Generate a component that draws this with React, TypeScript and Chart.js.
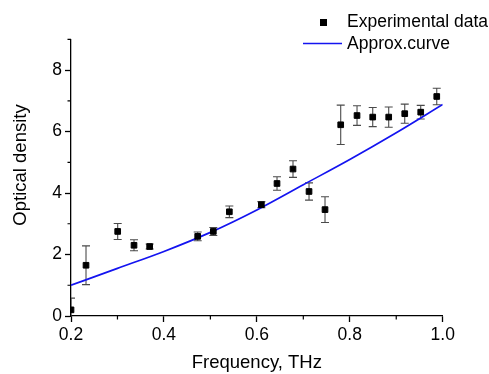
import { useEffect, useRef } from 'react';
import { Chart, registerables } from 'chart.js';

Chart.register(...registerables);

// Measured optical density with its uncertainty
const frequency = [0.2, 0.2323, 0.3005, 0.3356, 0.3693, 0.4727, 0.5063, 0.5408, 0.6097, 0.6434, 0.6778, 0.7123, 0.7467, 0.7805, 0.8156, 0.8494, 0.8838, 0.9183, 0.9527, 0.9872];
const density = [0.2, 1.65, 2.75, 2.3, 2.26, 2.59, 2.75, 3.39, 3.62, 4.31, 4.78, 4.05, 3.46, 6.22, 6.52, 6.47, 6.47, 6.58, 6.63, 7.14];
const densityError = [0.38, 0.63, 0.26, 0.18, 0.08, 0.14, 0.13, 0.19, 0.1, 0.22, 0.27, 0.28, 0.42, 0.64, 0.32, 0.31, 0.33, 0.31, 0.22, 0.27];

// Approximating curve
const curveFrequency = [0.2, 0.3, 0.4, 0.5, 0.6, 0.7, 0.8, 0.9, 1.0];
const curveDensity = [1.0, 1.55, 2.1, 2.72, 3.45, 4.27, 5.09, 5.96, 6.88];

const xMinorTicks = [0.3, 0.5, 0.7, 0.9];
const yMinorTicks = [1, 3, 5, 7, 9];

const FONT = '"Liberation Sans", Arial, sans-serif';

const isMinorX = (v: number) => Math.round(v * 10) % 2 === 1;
const isMinorY = (v: number) => Math.round(v) % 2 === 1;

const decorations = {
  id: 'decorations',
  beforeDatasetsDraw(chart: any) {
    const { ctx, chartArea } = chart;
    const x = chart.scales.x;
    const y = chart.scales.y;
    ctx.save();
    ctx.beginPath();
    ctx.rect(chartArea.left, chartArea.top, chartArea.right - chartArea.left, chartArea.bottom - chartArea.top);
    ctx.clip();
    ctx.strokeStyle = '#4a4a4a';
    ctx.lineWidth = 1.1;
    frequency.forEach((f, i) => {
      const err = densityError[i];
      if (!err) return;
      const px = x.getPixelForValue(f);
      const top = y.getPixelForValue(density[i] + err);
      const bot = y.getPixelForValue(density[i] - err);
      ctx.beginPath();
      ctx.moveTo(px, top);
      ctx.lineTo(px, bot);
      ctx.moveTo(px - 4, top);
      ctx.lineTo(px + 4, top);
      ctx.moveTo(px - 4, bot);
      ctx.lineTo(px + 4, bot);
      ctx.stroke();
    });
    ctx.restore();
  },
  afterDraw(chart: any) {
    const { ctx, chartArea } = chart;
    const x = chart.scales.x;
    const y = chart.scales.y;
    ctx.save();

    // minor ticks
    ctx.strokeStyle = '#000';
    ctx.lineWidth = 1.2;
    ctx.beginPath();
    xMinorTicks.forEach((v) => {
      const px = x.getPixelForValue(v);
      ctx.moveTo(px, chartArea.bottom);
      ctx.lineTo(px, chartArea.bottom + 3.5);
    });
    yMinorTicks.forEach((v) => {
      const py = y.getPixelForValue(v);
      ctx.moveTo(chartArea.left, py);
      ctx.lineTo(chartArea.left - 3.5, py);
    });
    ctx.stroke();

    // y axis title
    ctx.fillStyle = '#000';
    ctx.font = `18.5px ${FONT}`;
    ctx.textAlign = 'center';
    ctx.textBaseline = 'middle';
    ctx.save();
    ctx.translate(21, 165);
    ctx.rotate(-Math.PI / 2);
    ctx.fillText('Optical density', 0, 0);
    ctx.restore();

    // legend
    const [points, curve] = chart.data.datasets;
    ctx.font = `17.5px ${FONT}`;
    ctx.textAlign = 'left';
    ctx.fillStyle = points.pointBackgroundColor;
    ctx.fillRect(320, 19, 7, 7);
    ctx.fillStyle = '#000';
    ctx.fillText(points.label, 347, 22.5);
    ctx.strokeStyle = curve.borderColor;
    ctx.lineWidth = curve.borderWidth;
    ctx.beginPath();
    ctx.moveTo(303, 43.5);
    ctx.lineTo(342, 43.5);
    ctx.stroke();
    ctx.fillText(curve.label, 347, 44);

    ctx.restore();
  },
};

export default function App() {
  const canvasRef = useRef<HTMLCanvasElement | null>(null);

  useEffect(() => {
    const canvas = canvasRef.current;
    if (!canvas) return;
    const chart = new Chart(canvas, {
      type: 'scatter',
      data: {
        datasets: [
          {
            label: 'Experimental data',
            data: frequency.map((f, i) => ({ x: f, y: density[i] })),
            pointStyle: 'rect',
            pointRadius: 4,
            pointBorderWidth: 1,
            pointBackgroundColor: '#000',
            pointBorderColor: '#000',
            showLine: false,
            clip: 0,
          },
          {
            label: 'Approx.curve',
            type: 'line',
            data: curveFrequency.map((f, i) => ({ x: f, y: curveDensity[i] })),
            borderColor: '#1414f0',
            borderWidth: 1.7,
            pointRadius: 0,
            fill: false,
            cubicInterpolationMode: 'monotone',
            clip: 0,
          },
        ],
      },
      options: {
        animation: false,
        responsive: false,
        layout: { padding: { top: 39.3, right: 46.3, left: 0, bottom: 0 } },
        plugins: {
          legend: { display: false },
          tooltip: { enabled: false },
        },
        scales: {
          x: {
            type: 'linear',
            min: 0.2,
            max: 1.0,
            afterFit: (s: any) => {
              s.height = 58;
            },
            border: { display: true, color: '#000', width: 1.3 },
            grid: {
              drawOnChartArea: false,
              drawTicks: true,
              tickLength: 6,
              tickWidth: 1.3,
              tickColor: (c: any) => (c.tick && isMinorX(c.tick.value) ? 'rgba(0,0,0,0)' : '#000'),
            },
            ticks: {
              stepSize: 0.1,
              autoSkip: false,
              maxRotation: 0,
              padding: 3,
              color: '#000',
              font: { family: FONT, size: 17.5 },
              callback: (v: any) => (isMinorX(Number(v)) ? '' : Number(v).toFixed(1)),
            },
            title: {
              display: true,
              text: 'Frequency, THz',
              color: '#000',
              font: { family: FONT, size: 18.5 },
              padding: { top: 2, bottom: 0 },
            },
          },
          y: {
            type: 'linear',
            min: 0,
            max: 9,
            afterFit: (s: any) => {
              s.width = 71;
            },
            border: { display: true, color: '#000', width: 1.3 },
            grid: {
              drawOnChartArea: false,
              drawTicks: true,
              tickLength: 6,
              tickWidth: 1.3,
              tickColor: (c: any) => (c.tick && isMinorY(c.tick.value) ? 'rgba(0,0,0,0)' : '#000'),
            },
            ticks: {
              stepSize: 1,
              autoSkip: false,
              padding: 3,
              color: '#000',
              font: { family: FONT, size: 17.5 },
              callback: (v: any) => (isMinorY(Number(v)) ? '' : String(v)),
            },
          },
        },
      },
      plugins: [decorations],
    });
    return () => chart.destroy();
  }, []);

  return (
    <div style={{ position: 'fixed', left: 0, top: 0, width: 489, height: 374, background: '#fff' }}>
      <canvas ref={canvasRef} width={489} height={374} style={{ display: 'block' }} />
    </div>
  );
}
